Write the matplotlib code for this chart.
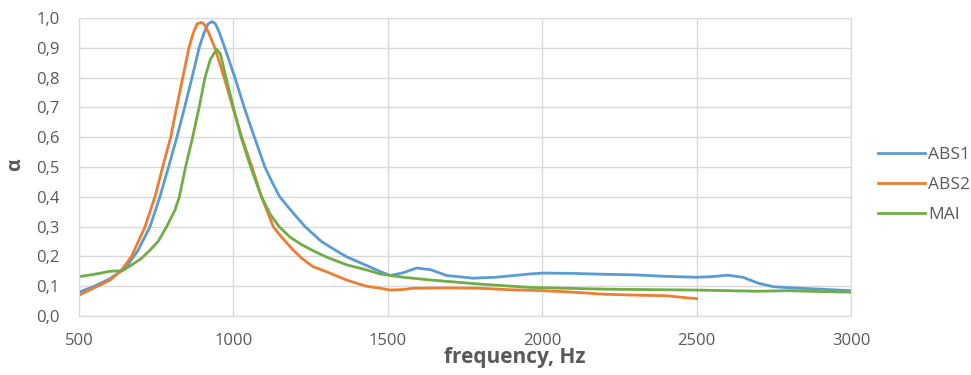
import matplotlib.pyplot as plt
from matplotlib.ticker import FuncFormatter, MultipleLocator

plt.rcParams['font.family'] = ['Open Sans', 'DejaVu Sans']

# ABS1
f_abs1 = [500, 550, 600, 650, 691, 730, 762, 790, 817, 842, 866, 889,
          905, 918, 931, 942, 955, 972, 1005, 1035, 1068, 1102, 1125,
          1150, 1190, 1232, 1285, 1330, 1366, 1430, 1476, 1508, 1550, 1593,
          1640, 1690, 1776, 1850, 1960, 2000, 2100, 2200, 2300, 2400, 2500,
          2550, 2600, 2650, 2700, 2750, 2800, 2900, 3000]
a_abs1 = [0.08, 0.10, 0.125, 0.16, 0.22, 0.30, 0.40, 0.50, 0.60,
          0.70, 0.80, 0.90, 0.95, 0.98, 0.988, 0.98, 0.95, 0.90, 0.80, 0.70,
          0.60, 0.50, 0.45, 0.40, 0.35, 0.30, 0.25, 0.221, 0.199,
          0.17, 0.149, 0.136, 0.145, 0.161, 0.155, 0.136, 0.127, 0.13, 0.141,
          0.144, 0.143, 0.14, 0.138, 0.133, 0.13, 0.132, 0.137, 0.13, 0.11,
          0.098, 0.095, 0.09, 0.085]

# ABS2
f_abs2 = [500, 550, 600, 638, 670, 714, 746, 771, 797, 816, 836, 856,
          870, 882, 895, 905, 920, 940, 970, 998, 1027, 1060, 1091,
          1129, 1150, 1194, 1221, 1257, 1310, 1366, 1430, 1476, 1508, 1550,
          1582, 1700, 1799, 1900, 2000, 2100, 2200, 2300, 2400, 2500]
a_abs2 = [0.07, 0.095, 0.12, 0.154, 0.20, 0.30, 0.40, 0.50, 0.60,
          0.70, 0.80, 0.90, 0.95, 0.98, 0.985, 0.98, 0.95, 0.90, 0.80, 0.70,
          0.60, 0.50, 0.40, 0.30, 0.272, 0.221, 0.194, 0.166, 0.145,
          0.121, 0.10, 0.093, 0.087, 0.089, 0.093, 0.094, 0.093, 0.088,
          0.085, 0.08, 0.073, 0.07, 0.068, 0.058]

# MAI
f_mai = [500, 550, 600, 640, 670, 703, 730, 756, 784, 811, 825, 845,
         868, 889, 908, 925, 945, 958, 976, 1000, 1025, 1056, 1091,
         1120, 1148, 1183, 1220, 1260, 1301, 1366, 1430, 1476, 1550, 1636,
         1799, 1960, 2200, 2500, 2700, 2800, 2900, 3000]
a_mai = [0.132, 0.14, 0.15, 0.152, 0.171, 0.194, 0.221, 0.25, 0.30, 0.356,
         0.40, 0.50, 0.60, 0.70, 0.80, 0.86, 0.895, 0.88, 0.80, 0.70,
         0.60, 0.50, 0.40, 0.34, 0.30, 0.265, 0.24, 0.218, 0.198, 0.172,
         0.155, 0.141, 0.13, 0.121, 0.107, 0.096, 0.09, 0.087, 0.083, 0.085,
         0.082, 0.08]

fig = plt.figure(figsize=(9.71, 3.75), dpi=100)
ax = fig.add_axes([79 / 971, 1 - 316 / 375, (851 - 79) / 971, (316 - 18) / 375])

ax.plot(f_abs1, a_abs1, color='#5B9BD5', lw=2, label='ABS1')
ax.plot(f_abs2, a_abs2, color='#ED7D31', lw=2, label='ABS2')
ax.plot(f_mai, a_mai, color='#70AD47', lw=2, label='MAI')

ax.set_xlim(500, 3000)
ax.set_ylim(0, 1.0)
ax.xaxis.set_major_locator(MultipleLocator(500))
ax.yaxis.set_major_locator(MultipleLocator(0.1))
ax.yaxis.set_major_formatter(FuncFormatter(lambda v, p: f'{v:.1f}'.replace('.', ',')))
ax.grid(True, color='#d9d9d9', lw=1)
ax.set_axisbelow(True)
for s in ax.spines.values():
    s.set_color('#d9d9d9')
ax.tick_params(length=0, labelsize=12, colors='#595959')
ax.tick_params(axis='x', pad=12)
ax.tick_params(axis='y', pad=14)

fig.text(515 / 971, 1 - 358 / 375, 'frequency, Hz', ha='center', va='center',
         fontsize=15, fontweight='bold', color='#595959')
fig.text(15 / 971, 1 - 165 / 375, 'α', ha='center', va='center', rotation=90,
         fontsize=14, fontweight='bold', color='#595959')

leg = fig.legend(loc='center left', bbox_to_anchor=(862 / 971, 1 - 185 / 375),
                 frameon=False, fontsize=12.5, handlelength=2.7,
                 labelspacing=0.8, handletextpad=0.2)
for t in leg.get_texts():
    t.set_color('#595959')

fig.savefig('out.png', dpi=100)
